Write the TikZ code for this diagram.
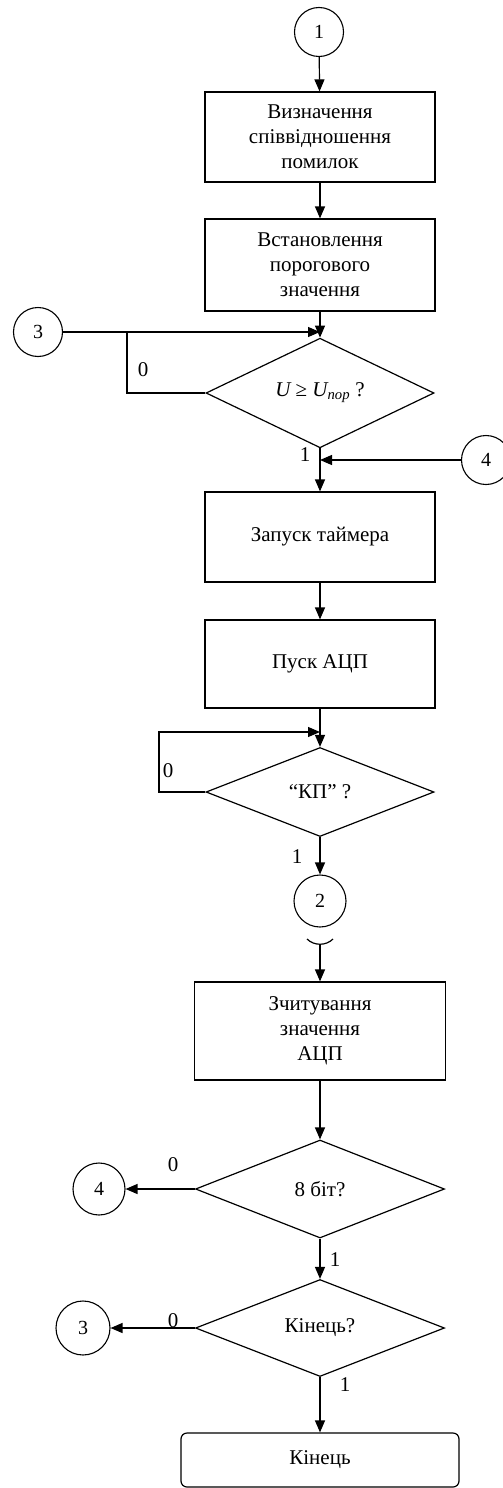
\documentclass[tikz,border=0pt]{standalone}
\usepackage{fontspec}
\setmainfont{Liberation Serif}
\usetikzlibrary{shapes.geometric,arrows.meta}
\begin{document}
\begin{tikzpicture}[x=1pt,y=-1pt,
  every node/.style={font=\fontsize{21}{25}\selectfont},
  proc/.style={draw,line width=1.2pt,minimum width=230pt,minimum height=90pt,align=center,inner sep=2pt},
  dec/.style={draw,diamond,line width=1.2pt,minimum width=228pt,minimum height=89pt,inner sep=0pt,align=center},
  conn/.style={draw,circle,line width=1.1pt,minimum size=49pt,inner sep=0pt,font=\fontsize{20}{20}\selectfont},
  arr/.style={line width=1.2pt,-{Triangle[length=12pt,width=10pt]}},
  ln/.style={line width=1.2pt},
  lbl/.style={inner sep=0pt}]
\useasboundingbox (0,0) rectangle (503,1488);
\fill[white] (0,0) rectangle (503,1488);

\node[conn] (c1) at (319,32) {1};
\node[proc] (b1) at (320,137) {Визначення\\співвідношення\\помилок};
\node[proc,minimum height=92pt] (b2) at (320,265) {Встановлення\\порогового\\значення};
\draw[arr] (c1) -- (b1);
\draw[arr] (b1) -- (b2);

\node[dec] (d1) at (320,393) {{\itshape U} ≥ {\itshape U\textsubscript{пор}} ?};
\node[conn] (c3) at (38,332) {3};
\coordinate (j1) at (320,332);
\draw[arr] (c3) -- (j1);
\draw[arr] (b2) -- (d1);
\coordinate (l1) at (127,393);
\draw[ln] (d1.west) -- (l1) -- (l1 |- c3);
\node[lbl] (z1) at (143,370) {0};

\node[lbl] (o1) at (305,455) {1};
\node[proc] (b3) at (320,537) {Запуск таймера};
\node[conn] (c4) at (486,460) {4};
\coordinate (j2) at (320,460);
\draw[arr] (d1) -- (b3);
\draw[arr] (c4) -- (j2);

\node[proc,minimum height=88pt] (b4) at (320,664) {Пуск АЦП};
\draw[arr] (b3) -- (b4);
\node[dec] (d2) at (320,792) {“КП\char"0022\ ?};
\draw[arr] (b4) -- (d2);
\coordinate (l2) at (159,792);
\coordinate (j3) at (320,732);
\draw[arr] (d2.west) -- (l2) -- (l2 |- j3) -- (j3);
\node[lbl] (z2) at (168,771) {0};
\node[lbl] (o2) at (297,857) {1};
\node[conn,minimum size=52pt] (c2) at (320,901) {2};
\draw[arr] (d2) -- (c2);

\draw[ln] (307,939) .. controls (314,946) and (326,946) .. (333,939);
\coordinate (a0) at (320,944);
\node[proc,minimum width=251pt,minimum height=98pt] (b5) at (320,1031) {Зчитування\\значення\\АЦП};
\draw[arr] (a0) -- (b5);

\node[dec,minimum width=249pt,minimum height=98pt] (d3) at (320,1189) {8 біт?};
\draw[arr] (b5) -- (d3);
\node[conn,minimum size=52pt] (c4b) at (99,1189) {4};
\draw[arr] (d3) -- (c4b);
\node[lbl] (z3) at (173,1165) {0};
\node[lbl] (o3) at (335,1260) {1};

\node[dec,minimum width=249pt,minimum height=97pt] (d4) at (320,1328) {Кінець?};
\draw[arr] (d3) -- (d4);
\node[conn,minimum size=54pt] (c3b) at (83,1328) {3};
\draw[arr] (d4) -- (c3b);
\node[lbl] (z4) at (173,1321) {0};
\node[lbl] (o4) at (345,1385) {1};

\node[proc,rounded corners=6pt,minimum width=278pt,minimum height=54pt] (fin) at (320,1460) {Кінець};
\draw[arr] (d4) -- (fin);
\end{tikzpicture}
\end{document}
